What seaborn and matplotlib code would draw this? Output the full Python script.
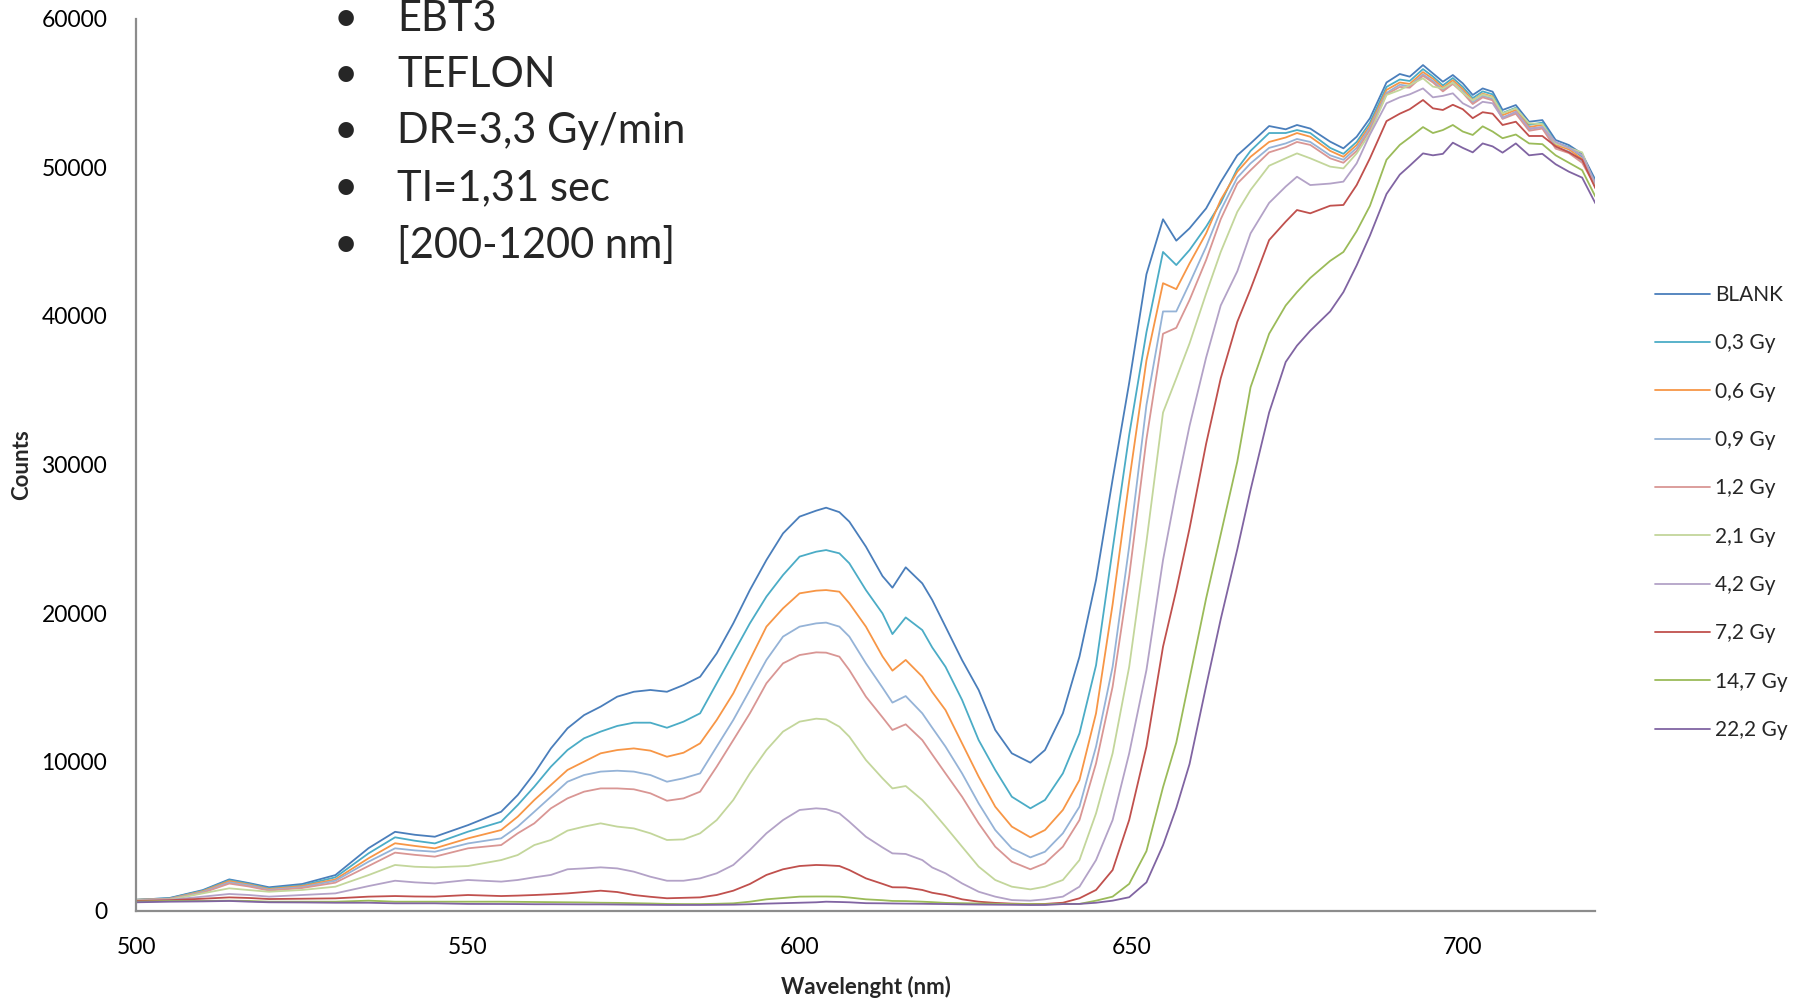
import matplotlib
matplotlib.use("Agg")
import matplotlib.pyplot as plt
import seaborn as sns
import pandas as pd

wavelength = [500, 505, 510, 514, 517, 520, 525, 530, 535, 539,
              542, 545, 550, 555, 557.5, 560, 562.5, 565, 567.5, 570,
              572.5, 575, 577.5, 580, 582.5, 585, 587.5, 590, 592.5, 595,
              597.5, 600, 602.5, 604, 606, 607.5, 610, 612.5, 614, 616,
              618.5, 620, 622, 624.5, 627, 629.5, 632, 634.8, 637, 639.7,
              642.2, 644.7, 647.2, 649.7, 652.3, 654.8, 656.8, 658.8, 661.3, 663.5,
              666, 668, 670.8, 673.3, 675, 677, 680, 682, 684, 686,
              688.5, 690.5, 692, 694, 695.5, 697, 698.5, 700, 701.5, 703,
              704.5, 706, 708, 710, 712, 714, 716, 718, 720]

blank = [720, 850, 1380, 2100, 1850, 1570, 1790, 2390, 4200, 5300,
         5100, 4970, 5750, 6650, 7775, 9230, 10910, 12260, 13150, 13720,
         14390, 14720, 14840, 14720, 15170, 15730, 17300, 19320, 21560, 23580,
         25370, 26500, 26900, 27100, 26800, 26160, 24480, 22500, 21720, 23090,
         22010, 20890, 19100, 16850, 14840, 12150, 10580, 9950, 10800, 13270,
         17080, 22240, 29000, 35500, 42800, 46500, 45060, 45890, 47230, 49000,
         50800, 51600, 52770, 52550, 52840, 52600, 51720, 51270, 52050, 53290,
         55700, 56270, 56090, 56870, 56310, 55750, 56200, 55640, 54860, 55300,
         55080, 53850, 54180, 53060, 53170, 51830, 51490, 50900, 49140]

gy_0_3 = [740, 830, 1340, 2050, 1800, 1500, 1700, 2240, 3850, 4930,
          4700, 4520, 5310, 5980, 7100, 8340, 9680, 10800, 11590, 12040,
          12420, 12640, 12640, 12300, 12710, 13270, 15290, 17300, 19320, 21120,
          22570, 23810, 24140, 24250, 24030, 23360, 21560, 19990, 18600, 19720,
          18870, 17700, 16400, 14170, 11470, 9460, 7660, 6880, 7440, 9230,
          11920, 16500, 24300, 32000, 38900, 44300, 43420, 44430, 46000, 47600,
          49900, 51100, 52300, 52300, 52500, 52300, 51300, 50900, 51700, 53000,
          55400, 55900, 55800, 56600, 56100, 55500, 56000, 55400, 54650, 55100,
          54900, 53650, 54000, 52850, 53000, 51650, 51350, 50700, 49000]

gy_0_6 = [730, 800, 1300, 1990, 1750, 1450, 1650, 2100, 3520, 4530,
          4350, 4190, 4860, 5420, 6320, 7440, 8450, 9460, 10020, 10580,
          10800, 10910, 10760, 10350, 10620, 11250, 12820, 14610, 16860, 19100,
          20330, 21340, 21520, 21560, 21450, 20670, 19100, 17100, 16140, 16860,
          15740, 14700, 13490, 11250, 9010, 6990, 5650, 4930, 5420, 6770,
          8780, 13270, 20600, 28900, 37000, 42200, 41800, 43530, 45550, 47800,
          49700, 50700, 51700, 52000, 52300, 52050, 51100, 50700, 51500, 52800,
          55200, 55700, 55600, 56400, 55950, 55350, 55850, 55250, 54500, 54950,
          54750, 53500, 53850, 52700, 52850, 51500, 51200, 50550, 48900]

gy_0_9 = [720, 780, 1250, 1900, 1700, 1400, 1580, 2010, 3290, 4190,
          4050, 3960, 4520, 4860, 5650, 6650, 7660, 8670, 9120, 9350,
          9410, 9350, 9120, 8670, 8900, 9230, 11030, 12820, 14840, 16860,
          18430, 19100, 19320, 19370, 19100, 18430, 16630, 15000, 13990, 14430,
          13270, 12300, 11030, 9230, 7210, 5420, 4190, 3580, 3960, 5200,
          6990, 11030, 16400, 24500, 34000, 40300, 40300, 42190, 44650, 47100,
          49300, 50260, 51300, 51600, 51900, 51700, 50800, 50500, 51300, 52650,
          55000, 55550, 55450, 56250, 55800, 55200, 55700, 55100, 54350, 54800,
          54600, 53350, 53700, 52550, 52700, 51350, 51050, 50400, 48800]

gy_1_2 = [710, 760, 1200, 1820, 1620, 1350, 1520, 1880, 3000, 3900,
          3750, 3630, 4190, 4410, 5200, 5870, 6880, 7550, 8000, 8220,
          8220, 8160, 7890, 7390, 7550, 8000, 9680, 11470, 13270, 15290,
          16630, 17190, 17370, 17350, 17080, 16180, 14390, 13000, 12150, 12530,
          11470, 10500, 9230, 7660, 5870, 4300, 3290, 2780, 3180, 4300,
          6090, 9900, 15060, 22500, 31700, 38800, 39200, 41070, 43760, 46500,
          48900, 49800, 51000, 51350, 51700, 51500, 50600, 50300, 51100, 52500,
          54900, 55400, 55350, 56150, 55700, 55100, 55600, 55000, 54250, 54700,
          54500, 53250, 53600, 52450, 52600, 51250, 50950, 50300, 48700]

gy_2_1 = [700, 740, 1160, 1500, 1380, 1270, 1390, 1610, 2390, 3070,
          2950, 2910, 3000, 3400, 3740, 4410, 4750, 5380, 5650, 5870,
          5650, 5530, 5200, 4750, 4790, 5200, 6090, 7440, 9230, 10800,
          12040, 12710, 12910, 12860, 12370, 11700, 10130, 8900, 8220, 8380,
          7440, 6700, 5650, 4300, 2960, 2060, 1610, 1430, 1610, 2060,
          3400, 6540, 10580, 16400, 24800, 33500, 35800, 38150, 41500, 44300,
          47000, 48470, 50100, 50600, 50930, 50600, 50040, 49920, 50930, 52280,
          54860, 55190, 55530, 55980, 55420, 55300, 55690, 55000, 54500, 54900,
          54700, 53620, 53960, 52950, 52900, 51600, 51300, 51000, 48690]

gy_4_2 = [680, 720, 940, 1120, 1050, 940, 1050, 1160, 1650, 2010,
          1900, 1830, 2060, 1950, 2060, 2240, 2400, 2780, 2840, 2910,
          2840, 2620, 2280, 2010, 2010, 2170, 2510, 3070, 4080, 5200,
          6090, 6770, 6880, 6830, 6540, 5980, 4970, 4250, 3850, 3810,
          3400, 2900, 2510, 1830, 1270, 940, 710, 670, 760, 940,
          1610, 3400, 6090, 10580, 16180, 23580, 28290, 32600, 37200, 40700,
          43000, 45550, 47600, 48700, 49360, 48800, 48900, 49030, 50260, 52200,
          54300, 54700, 54900, 55300, 54700, 54800, 54970, 54300, 53960, 54400,
          54300, 53290, 53740, 52610, 52700, 51700, 51300, 50800, 48910]

gy_7_2 = [650, 700, 800, 890, 850, 780, 800, 825, 940, 980,
          950, 940, 1050, 980, 1010, 1050, 1100, 1160, 1250, 1340,
          1250, 1050, 930, 830, 860, 890, 1050, 1340, 1790, 2400,
          2780, 3000, 3070, 3050, 3000, 2730, 2170, 1800, 1570, 1560,
          1390, 1200, 1050, 760, 600, 520, 470, 440, 450, 530,
          830, 1390, 2730, 6100, 11030, 17750, 21560, 25700, 31400, 35800,
          39600, 41800, 45100, 46340, 47120, 46900, 47410, 47460, 48800, 50600,
          53100, 53600, 53900, 54520, 53960, 53850, 54200, 53900, 53300, 53700,
          53600, 52840, 53060, 52100, 52100, 51400, 51000, 50500, 48580]

gy_14_7 = [600, 650, 650, 670, 650, 600, 600, 600, 670, 600,
           600, 600, 600, 600, 590, 580, 570, 560, 550, 530,
           520, 500, 480, 450, 440, 440, 460, 490, 600, 760,
           850, 940, 950, 950, 940, 880, 760, 700, 650, 640,
           600, 570, 520, 500, 480, 460, 440, 440, 430, 460,
           450, 670, 940, 1800, 4000, 8300, 11300, 15600, 21000, 25300,
           30200, 35200, 38800, 40700, 41600, 42550, 43700, 44300, 45700, 47400,
           50500, 51500, 52000, 52700, 52300, 52500, 52840, 52400, 52170, 52750,
           52400, 51950, 52200, 51600, 51550, 50800, 50300, 49800, 48020]

gy_22_2 = [560, 600, 620, 650, 600, 560, 550, 530, 530, 490,
           490, 490, 450, 445, 440, 430, 430, 425, 420, 420,
           410, 400, 390, 380, 380, 380, 390, 400, 430, 470,
           500, 530, 560, 600, 580, 560, 500, 490, 480, 470,
           460, 450, 440, 420, 410, 400, 390, 375, 380, 440,
           450, 530, 670, 900, 1900, 4400, 6900, 9860, 15100, 19600,
           24300, 28300, 33500, 36900, 38000, 39000, 40300, 41600, 43400, 45400,
           48200, 49500, 50100, 50930, 50800, 50900, 51650, 51300, 51000, 51600,
           51400, 50980, 51600, 50800, 50900, 50200, 49700, 49300, 47570]

series_labels = ["BLANK", "0,3 Gy", "0,6 Gy", "0,9 Gy", "1,2 Gy",
                 "2,1 Gy", "4,2 Gy", "7,2 Gy", "14,7 Gy", "22,2 Gy"]
series_values = [blank, gy_0_3, gy_0_6, gy_0_9, gy_1_2,
                 gy_2_1, gy_4_2, gy_7_2, gy_14_7, gy_22_2]
colors = ["#4A7EBB", "#4BACC6", "#F79646", "#95B3D7", "#D99694",
          "#C3D69B", "#B3A2C7", "#C0504D", "#9BBB59", "#8064A2"]

info_lines = ["EBT3", "TEFLON", "DR=3,3 Gy/min", "TI=1,31 sec", "[200-1200 nm]"]
x_ticks = [500, 550, 600, 650, 700]
y_ticks = [0, 10000, 20000, 30000, 40000, 50000, 60000]

rows = []
for lab, vals in zip(series_labels, series_values):
    for w, v in zip(wavelength, vals):
        rows.append({"Wavelength": w, "Counts": v, "Series": lab})
df = pd.DataFrame(rows)

sns.set_theme(style="white")
plt.rcParams["font.family"] = ["Lato", "DejaVu Sans"]

fig = plt.figure(figsize=(18.14, 10.02), dpi=100)
ax = fig.add_axes([0.0752, 0.0912, 0.8043, 0.8903])

sns.lineplot(data=df, x="Wavelength", y="Counts", hue="Series",
             hue_order=series_labels, palette=colors, linewidth=1.3,
             ax=ax, sort=False)

ax.set_xlim(500, 720)
ax.set_ylim(0, 60000)
ax.set_xticks(x_ticks)
ax.set_xticklabels([str(t) for t in x_ticks])
ax.set_yticks(y_ticks)
ax.set_yticklabels([str(t) for t in y_ticks])
ax.tick_params(axis="both", length=0, labelsize=16.5, colors="#000000")
ax.tick_params(axis="x", pad=19)
ax.tick_params(axis="y", pad=21)
for s in ["top", "right"]:
    ax.spines[s].set_visible(False)
for s in ["left", "bottom"]:
    ax.spines[s].set_color("#8C8C8C")
    ax.spines[s].set_linewidth(1.6)
ax.grid(False)

ax.set_xlabel("Wavelenght (nm)", fontsize=16, fontweight="bold")
ax.xaxis.label.set_va("center")
ax.xaxis.set_label_coords(0.5, -0.086)
ax.set_ylabel("Counts", fontsize=16, fontweight="bold")
ax.yaxis.label.set_va("center")
ax.yaxis.set_label_coords(-0.079, 0.5)

handles, labels = ax.get_legend_handles_labels()
leg = ax.legend(handles, labels, loc="upper left",
                bbox_to_anchor=(0.908, 0.724), bbox_transform=fig.transFigure,
                frameon=False, fontsize=15, handlelength=2.6,
                handletextpad=0.25, labelspacing=1.36, borderaxespad=0)
for line in leg.get_lines():
    line.set_linewidth(1.3)

y_positions = [0.981, 0.925, 0.869, 0.812, 0.755]
for yp, txt in zip(y_positions, info_lines):
    fig.text(0.184, yp, "\u2022", fontsize=30, va="center", ha="left")
    fig.text(0.219, yp, txt, fontsize=30, va="center", ha="left")

fig.savefig("out.png", dpi=100)
